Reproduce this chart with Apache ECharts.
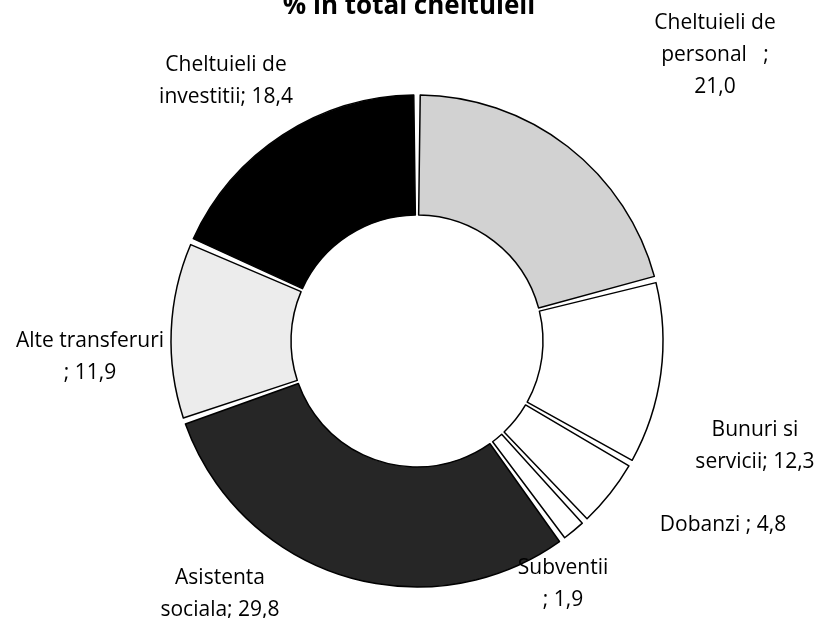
<!DOCTYPE html>
<html>
<head>
<meta charset="utf-8">
<script src="https://cdn.jsdelivr.net/npm/echarts@6/dist/echarts.min.js"></script>
<style>
  html, body { margin: 0; padding: 0; background: #fff; }
  #chart { width: 818px; height: 618px; }
</style>
</head>
<body>
<div id="chart"></div>
<script>
// Structura cheltuielilor, % in total cheltuieli
const categories = [
  'Cheltuieli de personal',
  'Bunuri si servicii',
  'Dobanzi',
  'Subventii',
  'Asistenta sociala',
  'Alte transferuri',
  'Cheltuieli de investitii'
];
const shares = [21.0, 12.3, 4.8, 1.9, 29.8, 11.9, 18.4];

// how each label wraps (text only; values come from shares)
const labelLines = [
  ['Cheltuieli de', 'personal   ;', '{v}'],
  ['Bunuri si', 'servicii; {v}'],
  ['Dobanzi ; {v}'],
  ['Subventii', '; {v}'],
  ['Asistenta', 'sociala; {v}'],
  ['Alte transferuri', '; {v}'],
  ['Cheltuieli de', 'investitii; {v}']
];

const fills = ['#d2d2d2', '#ffffff', '#ffffff', '#ffffff', '#262626', '#ececec', '#000000'];
const labelCenters = [
  [715, 55], [755, 446], [723, 525], [563, 584], [220, 594], [90, 357], [226, 81]
];

const fmt = v => v.toFixed(1).replace('.', ',');

const chart = echarts.init(document.getElementById('chart'), null, { renderer: 'canvas' });
chart.setOption({
  backgroundColor: '#ffffff',
  animation: false,
  title: {
    text: '% in total cheltuieli',
    left: 'center',
    top: -11,
    textStyle: {
      fontFamily: 'Open Sans',
      fontWeight: 'bold',
      fontSize: 26,
      color: '#000'
    }
  },
  series: [{
    type: 'pie',
    center: [417, 341],
    radius: [126, 246],
    startAngle: 90,
    clockwise: true,
    padAngle: 1.5,
    avoidLabelOverlap: false,
    itemStyle: { borderColor: '#000', borderWidth: 1.5 },
    emphasis: { disabled: true },
    label: {
      show: true,
      position: 'outside',
      color: '#000',
      fontFamily: 'Open Sans',
      fontSize: 21,
      lineHeight: 32,
      align: 'center',
      formatter: p => labelLines[p.dataIndex]
        .map(s => s.replace('{v}', fmt(p.value)))
        .join('\n')
    },
    labelLine: { show: false },
    labelLayout: p => ({
      x: labelCenters[p.dataIndex][0],
      y: labelCenters[p.dataIndex][1],
      align: 'center',
      verticalAlign: 'middle'
    }),
    data: categories.map((name, i) => ({
      name,
      value: shares[i],
      itemStyle: { color: fills[i] }
    }))
  }]
});
</script>
</body>
</html>
